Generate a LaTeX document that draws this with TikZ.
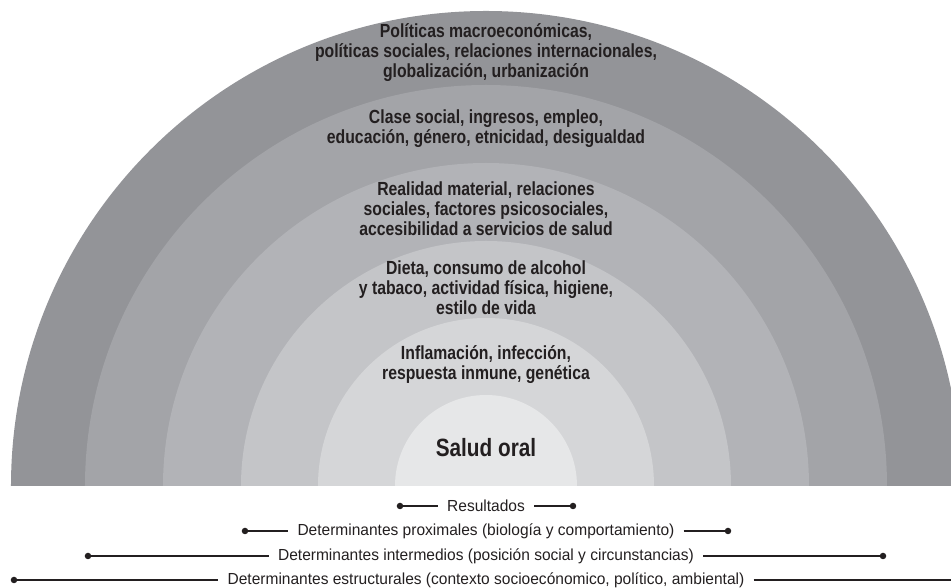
\documentclass[tikz,border=0pt]{standalone}
\usepackage{fontspec}
\usepackage{xcolor}
\usetikzlibrary{positioning}
\newfontfamily\ringfont{Liberation Sans}[FakeStretch=0.83]
\newfontfamily\keyfont{Liberation Sans}[FakeStretch=0.97]
\definecolor{ink}{HTML}{231F20}
\definecolor{ringA}{HTML}{939498}
\definecolor{ringB}{HTML}{A3A4A8}
\definecolor{ringC}{HTML}{B2B3B7}
\definecolor{ringD}{HTML}{C4C5C8}
\definecolor{ringE}{HTML}{D5D6D8}
\definecolor{ringF}{HTML}{E6E7E8}
\tikzset{
  ringtext/.style={text=ink, align=center, inner sep=0pt,
    font=\ringfont\bfseries\fontsize{19}{20}\selectfont},
  outcome/.style={text=ink, inner sep=0pt,
    font=\ringfont\bfseries\fontsize{25}{27}\selectfont},
  keylabel/.style={text=ink, inner xsep=9pt, inner ysep=1pt,
    font=\keyfont\fontsize{16}{18}\selectfont},
  dot/.style={circle, fill=ink, minimum size=6.5pt, inner sep=0pt},
  link/.style={draw=ink, line width=1.4pt}
}
\begin{document}
\begin{tikzpicture}[x=1pt, y=1pt]
  \useasboundingbox (-486,-102) rectangle (465,486);
  \clip (-486,-102) rectangle (465,486);

  % rings, outside in
  \fill[ringA] (-475,0) arc[start angle=180, end angle=0, radius=475pt] -- cycle;
  \fill[ringB] (-401,0) arc[start angle=180, end angle=0, radius=401pt] -- cycle;
  \fill[ringC] (-323,0) arc[start angle=180, end angle=0, radius=323pt] -- cycle;
  \fill[ringD] (-245,0) arc[start angle=180, end angle=0, radius=245pt] -- cycle;
  \fill[ringE] (-168,0) arc[start angle=180, end angle=0, radius=168pt] -- cycle;
  \fill[ringF] (-91,0) arc[start angle=180, end angle=0, radius=91pt] -- cycle;

  \node[ringtext] (macro) at (0,433) {Políticas macroeconómicas,\\políticas sociales, relaciones internacionales,\\globalización, urbanización};
  \node[ringtext] (clase) at (0,357) {Clase social, ingresos, empleo,\\educación, género, etnicidad, desigualdad};
  \node[ringtext] (realidad) at (0,277) {Realidad material, relaciones\\sociales, factores psicosociales,\\accesibilidad a servicios de salud};
  \node[ringtext] (dieta) at (0,198) {Dieta, consumo de alcohol\\y tabaco, actividad física, higiene,\\estilo de vida};
  \node[ringtext] (biologia) at (0,121) {Inflamación, infección,\\respuesta inmune, genética};
  \node[outcome] (salud) at (0,38) {Salud oral};

  % key below the rings
  \node[keylabel] (resultados) at (0,-20) {Resultados};
  \node[dot] (resL) at (-86,-20) {};
  \node[dot] (resR) at (87,-20) {};
  \draw[link] (resL) -- (resultados);
  \draw[link] (resultados) -- (resR);

  \node[keylabel] (proximales) at (0,-45) {Determinantes proximales (biología y comportamiento)};
  \node[dot] (proxL) at (-241,-45) {};
  \node[dot] (proxR) at (242,-45) {};
  \draw[link] (proxL) -- (proximales);
  \draw[link] (proximales) -- (proxR);

  \node[keylabel] (intermedios) at (0,-70) {Determinantes intermedios (posición social y circunstancias)};
  \node[dot] (interL) at (-398,-70) {};
  \node[dot] (interR) at (397,-70) {};
  \draw[link] (interL) -- (intermedios);
  \draw[link] (intermedios) -- (interR);

  \node[keylabel] (estructurales) at (0,-94) {Determinantes estructurales (contexto socioecónomico, político, ambiental)};
  \node[dot] (estrL) at (-472,-94) {};
  \node[dot] (estrR) at (472,-94) {};
  \draw[link] (estrL) -- (estructurales);
  \draw[link] (estructurales) -- (estrR);
\end{tikzpicture}
\end{document}
